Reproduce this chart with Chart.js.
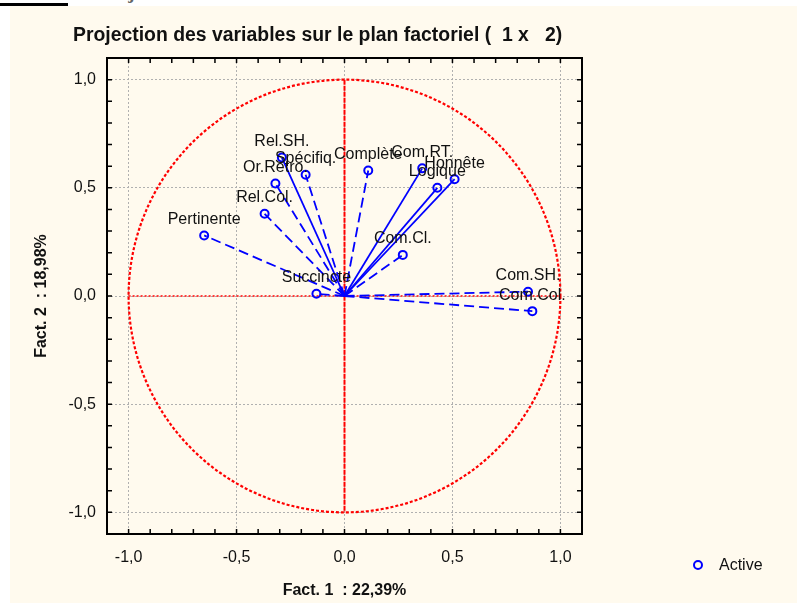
<!DOCTYPE html>
<html lang="fr">
<head>
<meta charset="utf-8">
<title>Projection des variables sur le plan factoriel</title>
<script src="https://cdn.jsdelivr.net/npm/chart.js@4.4.1/dist/chart.umd.min.js"></script>
<style>
  html, body { margin: 0; padding: 0; background: #fff; }
  body { width: 797px; height: 603px; position: relative; overflow: hidden; font-family: "Liberation Sans", Arial, sans-serif; }
  #entete { position: absolute; left: 0; top: 0; width: 797px; height: 6px; overflow: hidden; }
  #entete .barre { position: absolute; left: 0; top: 3px; width: 68px; height: 3px; background: #000; }
  #entete .texte { position: absolute; left: 80px; top: -18px; font: bold 19px "Liberation Serif", serif; color: #666; white-space: nowrap; }
  #fond { position: absolute; left: 10px; top: 6px; right: 0; bottom: 0; background: #fffaee; }
  #titre { position: absolute; left: 73px; top: 23px; font: bold 19.4px "Liberation Sans", Arial, sans-serif; color: #111; white-space: pre; line-height: 23px; }
  #graphique { position: absolute; left: 10px; top: 6px; }
  #legende { position: absolute; left: 693px; top: 555px; font: 16px "Liberation Sans", Arial, sans-serif; color: #111; display: flex; align-items: center; line-height: 19px; }
  #legende .puce { width: 6px; height: 6px; border: 2px solid #0000ff; border-radius: 50%; margin-right: 16px; }
</style>
</head>
<body>
<div id="entete"><div class="barre"></div><div class="texte">2. Projection des variables</div></div>
<div id="fond"></div>
<canvas id="graphique" width="787" height="597"></canvas>
<div id="titre"></div>
<div id="legende"><span class="puce"></span><span>Active</span></div>

<script>
// coordonnées des variables sur les facteurs 1 et 2
const variables = ["Rel.SH.", "Spécifiq.", "Complète", "Com.RT.", "Honnête", "Logique",
  "Or.Retro.", "Rel.Col.", "Pertinente", "Com.Cl.", "Succincte", "Com.SH.", "Com.Col."];
const fact1 = [-0.29, -0.18, 0.11, 0.36, 0.51, 0.43, -0.32, -0.37, -0.65, 0.27, -0.13, 0.85, 0.87];
const fact2 = [0.64, 0.56, 0.58, 0.59, 0.54, 0.50, 0.52, 0.38, 0.28, 0.19, 0.01, 0.02, -0.07];

const graduations = [-1.0, -0.5, 0.0, 0.5, 1.0];
const borneMin = -1.1, borneMax = 1.1, pasMineur = 0.1;

const titreGraphique = "Projection des variables sur le plan factoriel (  1 x   2)";
const titreX = "Fact. 1  : 22,39%";
const titreY = "Fact. 2  : 18,98%";

// vecteurs tracés en trait plein (les autres en tirets)
const vecteursPleins = ["Rel.SH.", "Com.RT.", "Honnête", "Logique"];

const bleu = "#0000ff";
const rouge = "#ff0000";
const police = '"Liberation Sans", Arial, sans-serif';

document.getElementById("titre").textContent = titreGraphique;

function majeure(v) {
  return graduations.some(g => Math.abs(g - v) < 1e-6);
}

function formatGraduation(v) {
  const r = Math.round(v * 10) / 10;
  return (r === 0 ? 0 : r).toFixed(1).replace(".", ",");
}

const cercle = {
  id: "cercle",
  beforeDatasetsDraw(chart) {
    const { ctx, scales: { x, y } } = chart;
    const cx = x.getPixelForValue(0), cy = y.getPixelForValue(0);
    const rx = x.getPixelForValue(1) - cx, ry = cy - y.getPixelForValue(1);
    ctx.save();
    ctx.strokeStyle = rouge;
    ctx.lineWidth = 2.2;
    ctx.setLineDash([3, 2]);
    ctx.beginPath();
    ctx.ellipse(cx, cy, rx, ry, 0, 0, 2 * Math.PI);
    ctx.stroke();

    ctx.lineWidth = 1.5;
    ctx.setLineDash([2, 2]);
    ctx.beginPath();
    ctx.moveTo(x.getPixelForValue(-1), cy);
    ctx.lineTo(x.getPixelForValue(1), cy);
    ctx.stroke();

    ctx.lineWidth = 2;
    ctx.setLineDash([5, 1]);
    ctx.beginPath();
    ctx.moveTo(cx, y.getPixelForValue(1));
    ctx.lineTo(cx, y.getPixelForValue(-1));
    ctx.stroke();
    ctx.restore();
  }
};

const etiquettes = {
  id: "etiquettes",
  afterDatasetsDraw(chart) {
    const { ctx, scales: { x, y } } = chart;
    ctx.save();
    ctx.font = "16px " + police;
    ctx.fillStyle = "#111";
    ctx.textAlign = "center";
    ctx.textBaseline = "middle";
    variables.forEach((nom, i) => {
      ctx.fillText(nom, x.getPixelForValue(fact1[i]), y.getPixelForValue(fact2[i]) - 16);
    });
    ctx.restore();
  }
};

const cadre = {
  id: "cadre",
  afterDraw(chart) {
    const { ctx, chartArea: a, scales: { x, y } } = chart;
    ctx.save();
    ctx.strokeStyle = "#000";
    ctx.lineWidth = 1.5;
    ctx.beginPath();
    x.ticks.forEach(t => {
      const px = x.getPixelForValue(t.value);
      ctx.moveTo(px, a.bottom); ctx.lineTo(px, a.bottom - 5);
      ctx.moveTo(px, a.top); ctx.lineTo(px, a.top + 5);
    });
    y.ticks.forEach(t => {
      const py = y.getPixelForValue(t.value);
      ctx.moveTo(a.left, py); ctx.lineTo(a.left + 5, py);
      ctx.moveTo(a.right, py); ctx.lineTo(a.right - 5, py);
    });
    ctx.stroke();
    ctx.lineWidth = 2;
    ctx.strokeRect(a.left, a.top, a.right - a.left, a.bottom - a.top);
    ctx.restore();
  }
};

const vecteurs = variables.map((nom, i) => ({
  type: "line",
  label: nom,
  data: [{ x: 0, y: 0 }, { x: fact1[i], y: fact2[i] }],
  borderColor: bleu,
  borderWidth: 1.8,
  borderDash: vecteursPleins.includes(nom) ? [] : [10, 5],
  pointRadius: 0,
  fill: false
}));

const points = {
  type: "scatter",
  label: "Active",
  data: variables.map((nom, i) => ({ x: fact1[i], y: fact2[i] })),
  pointStyle: "circle",
  pointRadius: 4,
  borderColor: bleu,
  borderWidth: 2,
  backgroundColor: "rgba(0,0,0,0)"
};

function axe(titre, vertical) {
  return {
    type: "linear",
    min: borneMin,
    max: borneMax,
    ticks: {
      stepSize: pasMineur,
      maxTicksLimit: 40,
      autoSkip: false,
      maxRotation: 0,
      padding: vertical ? 11 : 14,
      color: "#111",
      font: { family: police, size: 16 },
      callback: v => majeure(v) ? formatGraduation(v) : ""
    },
    grid: {
      drawTicks: false,
      lineWidth: 1,
      color: c => (c.tick && majeure(c.tick.value)) ? "#b0b0b0" : "rgba(0,0,0,0)"
    },
    border: { display: false, dash: [2, 2] },
    title: {
      display: true,
      text: titre,
      color: "#111",
      font: { family: police, size: 16, weight: "bold" },
      padding: vertical ? { top: 22, bottom: 0 } : { top: 0, bottom: 3 }
    },
    afterFit: s => {
      if (vertical) s.width = 97; else s.height = 69;
    }
  };
}

Chart.defaults.font.family = police;

new Chart(document.getElementById("graphique"), {
  type: "scatter",
  data: { datasets: [points, ...vecteurs] },
  options: {
    responsive: false,
    animation: false,
    devicePixelRatio: 1,
    layout: { padding: { left: 0, right: 215, top: 52, bottom: 0 } },
    plugins: {
      legend: { display: false },
      tooltip: { enabled: false },
      title: { display: false }
    },
    scales: {
      x: axe(titreX, false),
      y: axe(titreY, true)
    }
  },
  plugins: [cercle, etiquettes, cadre]
});
</script>
</body>
</html>
